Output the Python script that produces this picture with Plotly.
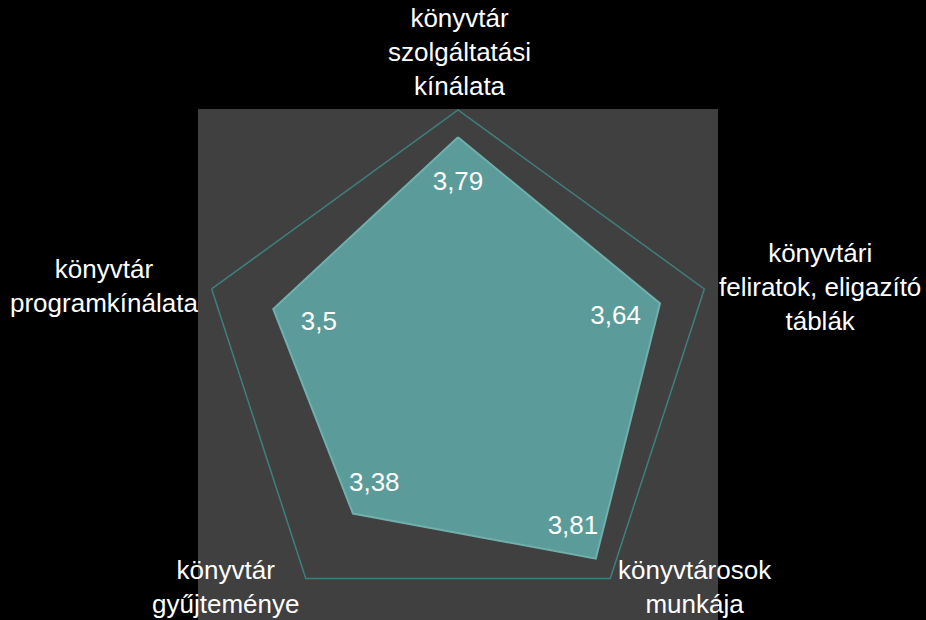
import plotly.graph_objects as go

# Survey scores per library aspect (clockwise from top)
categories = [
    "könyvtár<br>szolgáltatási<br>kínálata",
    "könyvtári<br>feliratok, eligazító<br>táblák",
    "könyvtárosok<br>munkája",
    "könyvtár<br>gyűjteménye",
    "könyvtár<br>programkínálata",
]
scores = [3.79, 3.64, 3.81, 3.38, 3.5]
score_labels = ["3,79", "3,64", "3,81", "3,38", "3,5"]

FONT = "Liberation Sans, Arial, sans-serif"
W = 926
H = 628  # a little taller than the window; the bottom of the grey panel runs off the page

# how far (in score units) each value label sits inside its vertex
label_inset = [0.36, 0.36, 0.30, 0.28, 0.37]

fig = go.Figure()

# filled polygon (closed by repeating the first point)
fig.add_trace(go.Scatterpolar(
    r=scores + scores[:1],
    theta=categories + categories[:1],
    mode="lines",
    fill="toself",
    fillcolor="#5b9b99",
    line=dict(color="#6fb0ad", width=2),
    hoverinfo="skip",
))

# value labels, pulled a bit inwards from each vertex
fig.add_trace(go.Scatterpolar(
    r=[v - d for v, d in zip(scores, label_inset)],
    theta=categories,
    mode="text",
    text=score_labels,
    textposition="middle center",
    textfont=dict(family=FONT, size=26, color="white"),
    hoverinfo="skip",
))

# category labels placed around the chart like in the original
label_pos = [(459, 52), (820, 287), (695, 587), (225, 587), (104, 286)]
annotations = [
    dict(text=c, x=px / W, y=1 - py / H, xref="paper", yref="paper",
         xanchor="center", yanchor="middle", align="center", showarrow=False,
         font=dict(family=FONT, size=26, color="white"))
    for c, (px, py) in zip(categories, label_pos)
]

fig.update_layout(
    width=W,
    height=H,
    paper_bgcolor="black",
    margin=dict(l=0, r=0, t=0, b=0),
    showlegend=False,
    shapes=[dict(type="rect", xref="paper", yref="paper",
                 x0=198 / W, x1=718 / W, y0=0, y1=1 - 109 / H,
                 fillcolor="#404040", line=dict(width=0), layer="below")],
    annotations=annotations,
    polar=dict(
        domain=dict(x=[198 / W, 718 / W], y=[0, 1 - 110 / H]),
        bgcolor="rgba(0,0,0,0)",
        gridshape="linear",
        radialaxis=dict(range=[2, 4], visible=False, showgrid=False),
        angularaxis=dict(
            direction="clockwise",
            rotation=90,
            showline=True,
            linecolor="#3f7f7d",
            linewidth=1.5,
            showgrid=False,
            showticklabels=False,
            ticks="",
        ),
    ),
)

# no page margin / scrollbars so the figure sits in the corner
fig.write_html(
    "out.html",
    config={"displayModeBar": False},
    post_script=(
        "document.body.style.margin='0';"
        "document.body.style.overflow='hidden';"
        "document.documentElement.style.overflow='hidden';"
    ),
)
